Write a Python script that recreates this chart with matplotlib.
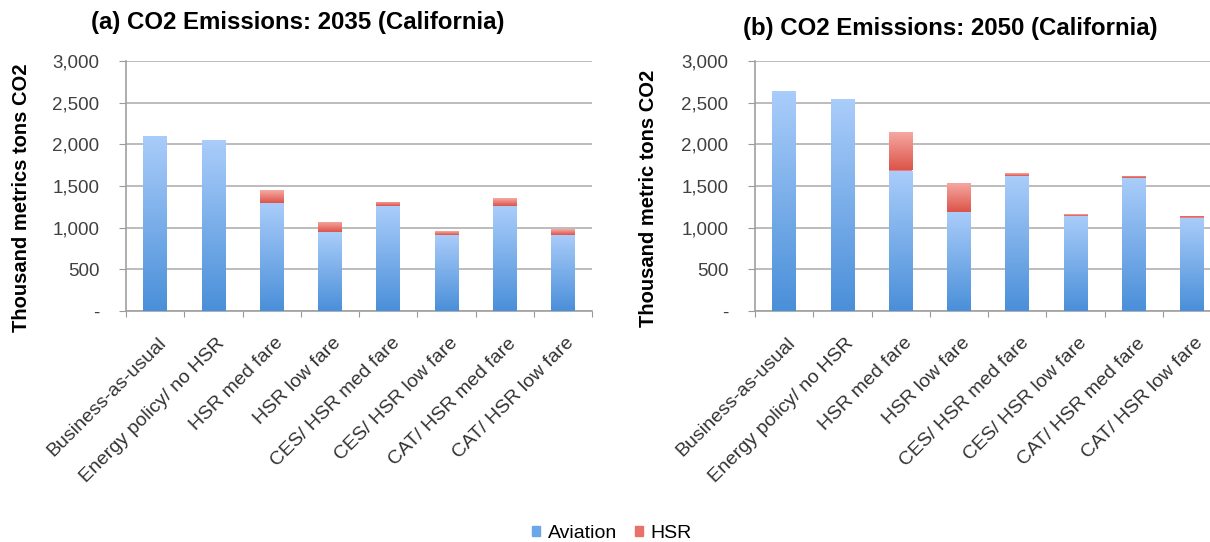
import numpy as np
import matplotlib
matplotlib.use("Agg")
import matplotlib.pyplot as plt
from matplotlib.colors import LinearSegmentedColormap
from matplotlib.patches import Patch
from matplotlib.ticker import FuncFormatter

plt.rcParams['font.family'] = ['Liberation Sans', 'DejaVu Sans']

scenarios = ["Business-as-usual", "Energy policy/ no HSR", "HSR med fare", "HSR low fare",
             "CES/ HSR med fare", "CES/ HSR low fare", "CAT/ HSR med fare", "CAT/ HSR low fare"]

# thousand metric tons CO2
aviation_2035 = [2105, 2050, 1300, 945, 1260, 915, 1260, 915]
hsr_2035 = [0, 0, 155, 122, 53, 44, 94, 65]
aviation_2050 = [2638, 2540, 1686, 1191, 1617, 1143, 1592, 1122]
hsr_2050 = [0, 0, 457, 349, 36, 24, 25, 21]

titles = ["(a) CO2 Emissions: 2035 (California)", "(b) CO2 Emissions: 2050 (California)"]
ylabels = ["Thousand metrics tons CO2", "Thousand metric tons CO2"]

blue_cm = LinearSegmentedColormap.from_list("blue", ["#4a8fd9", "#aacdfa"])
red_cm = LinearSegmentedColormap.from_list("red", ["#dc5448", "#f6aaa5"])

W, H = 1210, 542
fig = plt.figure(figsize=(W / 100, H / 100), dpi=100)
ax_a = fig.add_axes([126 / W, 1 - 311 / H, 466 / W, 250 / H])
ax_b = fig.add_axes([755 / W, 1 - 311 / H, 466 / W, 250 / H])

grad = np.linspace(0, 1, 256).reshape(-1, 1)


def grad_bars(ax, x, bottom, height, cmap):
    bars = ax.bar(x, height, 0.4, bottom=bottom, color=cmap(0.5), linewidth=0, zorder=2)
    for b in bars:
        h = b.get_height()
        if h <= 0:
            continue
        x0, y0 = b.get_x(), b.get_y()
        im = ax.imshow(grad, cmap=cmap, aspect='auto', origin='lower',
                       extent=[x0, x0 + b.get_width(), y0, y0 + h], zorder=3)
        im.set_clip_path(b)
    return bars


def fmt(v, pos):
    return "-" if v == 0 else f"{int(v):,}"


panels = [(ax_a, aviation_2035, hsr_2035, titles[0], ylabels[0], 298, 22, 22),
          (ax_b, aviation_2050, hsr_2050, titles[1], ylabels[1], 950, 28, 649)]

for ax, av, hs, title, ylab, tx, ty, lx in panels:
    x = np.arange(len(scenarios))
    grad_bars(ax, x, 0, av, blue_cm)
    grad_bars(ax, x, av, hs, red_cm)
    ax.set_xlim(-0.5, len(scenarios) - 0.5)
    ax.set_ylim(0, 3000)
    ax.set_yticks(np.arange(0, 3001, 500))
    ax.yaxis.set_major_formatter(FuncFormatter(fmt))
    ax.set_xticks(np.arange(-0.5, len(scenarios), 1.0))
    ax.set_xticklabels([])
    ax.set_xticks(x + 0.05, minor=True)
    ax.set_xticklabels(scenarios, minor=True, rotation=45, ha='right', va='top',
                       rotation_mode='anchor', fontsize=14, color='#333333')
    ax.tick_params(axis='x', which='minor', length=0, pad=17)
    ax.tick_params(axis='x', which='major', length=4, color='#999999', direction='out')
    ax.tick_params(axis='y', length=5, color='#999999', labelsize=13.5, labelcolor='#404040', pad=14)
    ax.grid(axis='y', color='#b0b0b0', linewidth=1.2, zorder=0)
    ax.set_axisbelow(True)
    for s in ['top', 'right']:
        ax.spines[s].set_visible(False)
    for s in ['left', 'bottom']:
        ax.spines[s].set_color('#a0a0a0')
        ax.spines[s].set_linewidth(1.2)
    fig.text(tx / W, 1 - ty / H, title, fontsize=17.3, fontweight='bold', ha='center', va='center')
    fig.text(lx / W, 1 - 198 / H, ylab, fontsize=14.5, fontweight='bold', rotation=90,
             ha='center', va='center')

handles = [Patch(color="#6aa6ea", label="Aviation"), Patch(color="#e8716a", label="HSR")]
fig.legend(handles=handles, loc='center', bbox_to_anchor=(612 / W, 1 - 533 / H), ncol=2,
           frameon=False, fontsize=14, handlelength=0.42, handleheight=0.42,
           handletextpad=0.4, columnspacing=0.9)

fig.savefig("out.png", dpi=100)
